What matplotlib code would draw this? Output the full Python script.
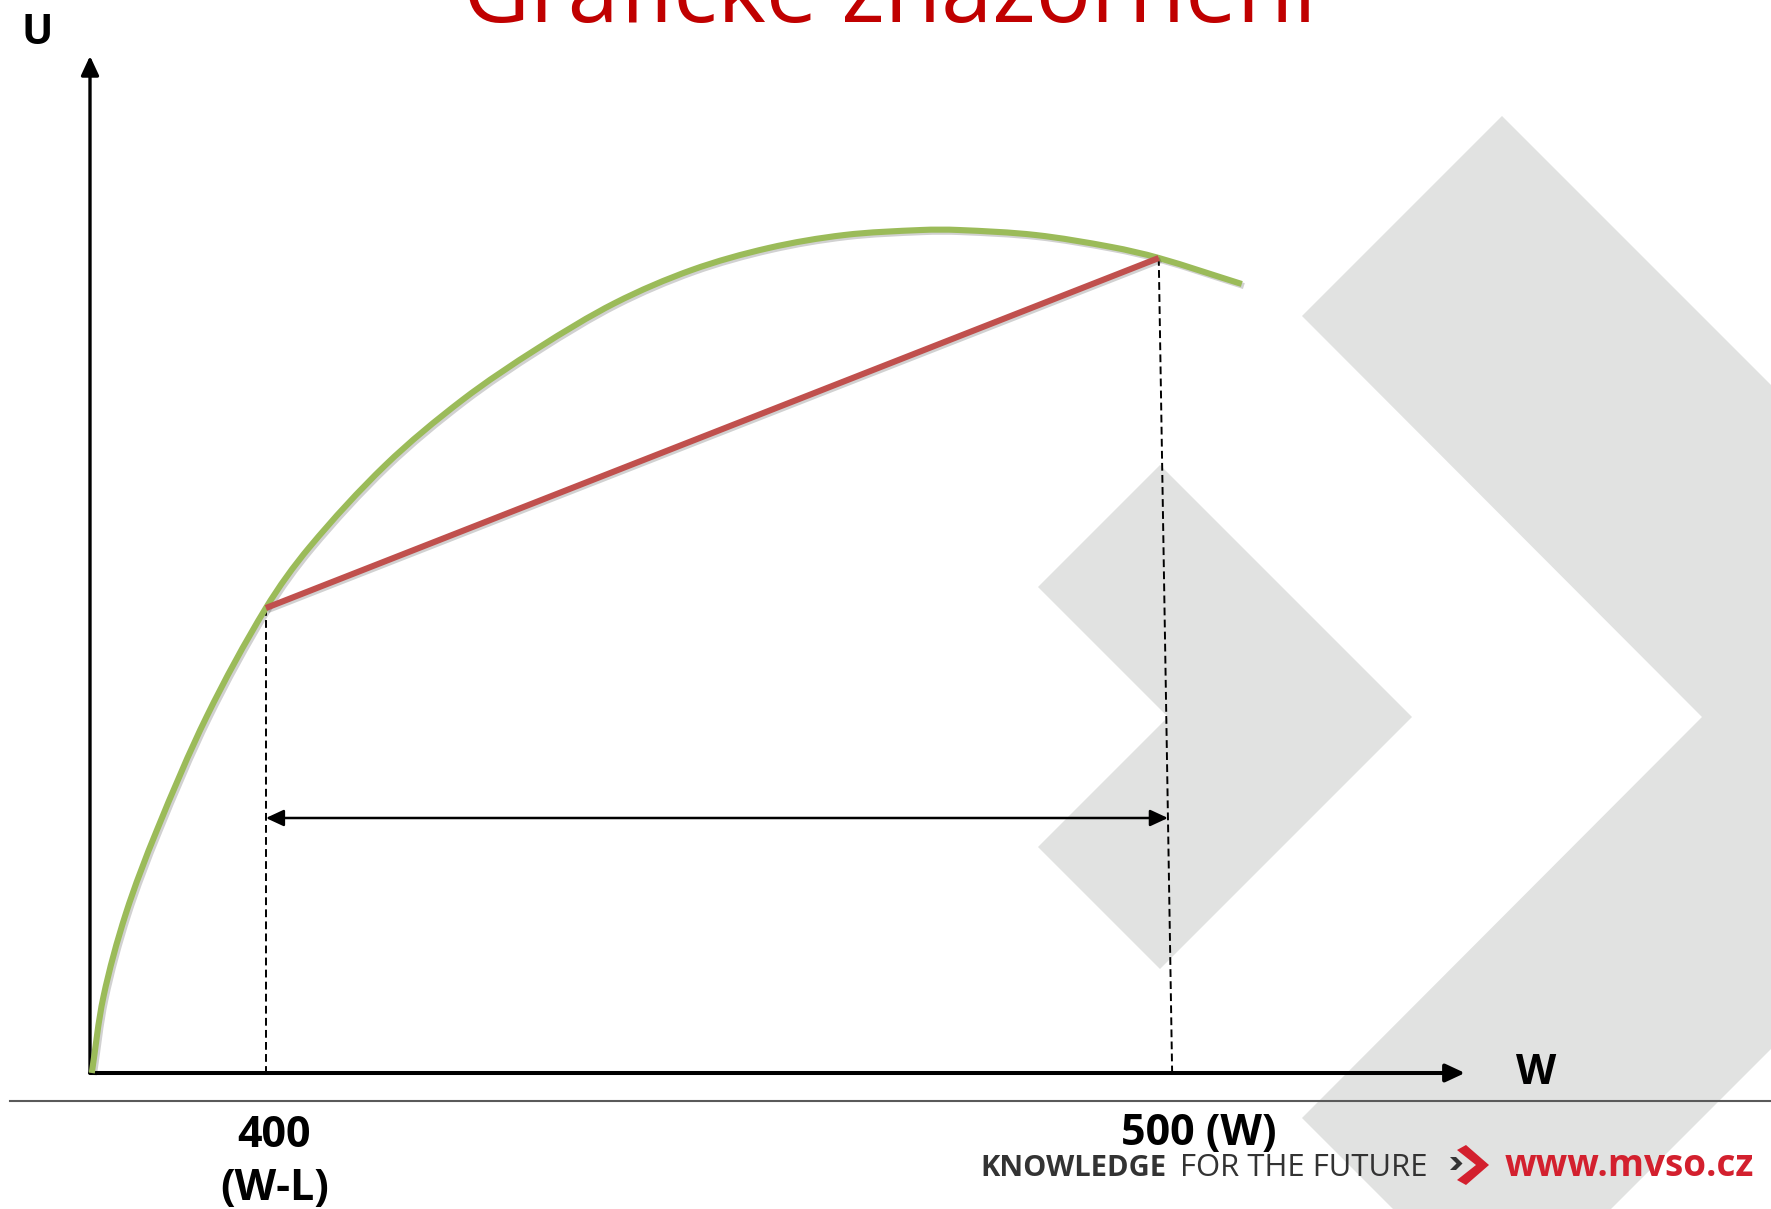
import matplotlib
matplotlib.use("Agg")
import numpy as np
import matplotlib.pyplot as plt
import matplotlib.patheffects as pe
from matplotlib.patches import Polygon, PathPatch
from matplotlib.path import Path

# utility curve U(W)
wealth = [380.5, 381.8, 384.3, 387.8, 393.4, 400.0, 404.9, 413.4, 422.0, 430.5,
          439.1, 447.7, 456.3, 464.8, 473.4, 477.6, 486.2, 494.7, 500.0, 509.3]
utility = [0.0, 7.6, 15.9, 24.3, 35.7, 46.5, 52.6, 60.8, 67.3, 72.5,
           77.0, 80.3, 82.5, 83.8, 84.3, 84.3, 83.8, 82.6, 81.5, 78.9]

w_low, w_high = 400, 500          # W-L and W
u_low = utility[wealth.index(w_low)]
u_high = utility[wealth.index(w_high)]
span_level = 25.5                 # height of the double arrow
lean = 1.5                        # the right guide line leans a little

GREEN = "#9bbb59"
RED = "#c0504d"
GREY = "#e1e2e1"

W, H = 1771, 1209
fig = plt.figure(figsize=(W / 100, H / 100), dpi=100)
renderer = fig.canvas.get_renderer()


def fit_width(txt, px):
    w = txt.get_window_extent(renderer).width
    txt.set_fontsize(txt.get_fontsize() * px / w)


def smooth_path(ax, xs, ys):
    # chord-length Catmull-Rom through the points, as cubic Bezier segments
    p = ax.transData.transform(np.column_stack([xs, ys]))
    n = len(p)
    dt = np.hypot(*np.diff(p, axis=0).T)
    m = np.empty_like(p)
    m[0] = (p[1] - p[0]) / dt[0]
    m[-1] = (p[-1] - p[-2]) / dt[-1]
    for i in range(1, n - 1):
        m[i] = (p[i + 1] - p[i - 1]) / (dt[i - 1] + dt[i])
    verts, codes = [p[0]], [Path.MOVETO]
    for i in range(n - 1):
        verts += [p[i] + m[i] * dt[i] / 3, p[i + 1] - m[i + 1] * dt[i] / 3, p[i + 1]]
        codes += [Path.CURVE4] * 3
    verts = ax.transData.inverted().transform(np.array(verts))
    return Path(verts, codes)


# slide background: chevrons, title, footer
bg = fig.add_axes([0, 0, 1, 1], zorder=0)
bg.set_xlim(0, W)
bg.set_ylim(H, 0)
bg.axis("off")

big = [(1502, 116), (2103, 717), (1502, 1318), (1302, 1118), (1702, 717), (1302, 316)]
small = [(1160, 465), (1412, 717), (1160, 969), (1038, 847), (1168, 717), (1038, 587)]
for pts in (big, small):
    bg.add_patch(Polygon(pts, closed=True, facecolor=GREY, edgecolor="none", zorder=1))

title = bg.text(890, 22, "Grafické znázornění", color="#c00000", ha="center",
                va="baseline", family="Open Sans", fontsize=60, zorder=3)
fit_width(title, 853)

bg.plot([10, W], [1101, 1101], color="#5a5a5a", lw=1.5, zorder=2)

k = bg.text(980, 1176, "KNOWLEDGE", color="#333333", fontweight="bold",
            family="Open Sans", ha="left", va="baseline", fontsize=20, zorder=3)
fit_width(k, 186)
f = bg.text(1180, 1176, "FOR THE FUTURE", color="#333333",
            family="Open Sans", ha="left", va="baseline", fontsize=20, zorder=3)
fit_width(f, 248)
url = bg.text(1505, 1176, "www.mvso.cz", color="#d3202e", fontweight="bold",
              family="Open Sans", ha="left", va="baseline", fontsize=24, zorder=3)
fit_width(url, 250)

bg.add_patch(Polygon([(1450, 1157), (1456, 1157), (1462.5, 1163.5), (1456, 1170),
                      (1450, 1170), (1456.5, 1163.5)], facecolor="#333333", zorder=3))
bg.add_patch(Polygon([(1466, 1145), (1489, 1165), (1466, 1185), (1457, 1180),
                      (1476, 1165), (1457, 1150)], facecolor="#d3202e", zorder=3))

bg.text(37, 34, "U", fontweight="bold", family="Open Sans", fontsize=30,
        ha="center", va="center", zorder=3)
bg.text(1536, 1073, "W", fontweight="bold", family="Open Sans", fontsize=30,
        ha="center", va="center", zorder=3)

# diagram axes
ax = fig.add_axes([90 / W, (H - 1073) / H, 1375 / W, 1017 / H], zorder=1)
ax.patch.set_alpha(0)
ax.set_xlim(380.3, 534.3)
ax.set_ylim(0, 101.7)
ax.axis("off")

x0, x1 = ax.get_xlim()
y0, y1 = ax.get_ylim()
ax.annotate("", xy=(x1, y0), xytext=(x0, y0), annotation_clip=False,
            arrowprops=dict(arrowstyle="-|>,head_length=0.58,head_width=0.27",
                            mutation_scale=20, lw=2.9, color="black",
                            shrinkA=0, shrinkB=0))
ax.annotate("", xy=(x0, y1), xytext=(x0, y0), annotation_clip=False,
            arrowprops=dict(arrowstyle="-|>,head_length=0.58,head_width=0.27",
                            mutation_scale=20, lw=2.4, color="black",
                            shrinkA=0, shrinkB=0))

shadow = [pe.SimpleLineShadow(offset=(1.5, -1.5), alpha=0.18), pe.Normal()]
ax.add_patch(PathPatch(smooth_path(ax, wealth, utility), fill=False, edgecolor=GREEN,
                       lw=4.4, capstyle="butt", path_effects=shadow,
                       clip_on=False, zorder=3))
ax.plot([w_low, w_high], [u_low, u_high], color=RED, lw=4.4,
        solid_capstyle="butt", path_effects=shadow, zorder=4)

dash = (0, (4, 2.2))
ax.plot([w_low, w_low], [u_low, 0], color="black", lw=1.4, linestyle=dash, zorder=2)
ax.plot([w_high, w_high + lean], [u_high, 0], color="black", lw=1.4, linestyle=dash, zorder=2)

x_right = w_high + lean * (1 - span_level / u_high)
ax.annotate("", xy=(x_right, span_level), xytext=(w_low, span_level),
            arrowprops=dict(arrowstyle="<|-|>,head_length=0.54,head_width=0.25",
                            mutation_scale=20, lw=1.8, color="black",
                            shrinkA=0, shrinkB=0))

ax.annotate(f"{w_low}\n(W-L)", xy=(w_low, 0), xytext=(6, -64), textcoords="offset points",
            ha="center", va="center", fontweight="bold", family="Open Sans",
            fontsize=31, linespacing=1.3, annotation_clip=False)
ax.annotate(f"{w_high} (W)", xy=(w_high, 0), xytext=(-27, -43.5), textcoords="offset points",
            ha="left", va="center", fontweight="bold", family="Open Sans",
            fontsize=31, annotation_clip=False)

fig.savefig("out.png", dpi=100)
